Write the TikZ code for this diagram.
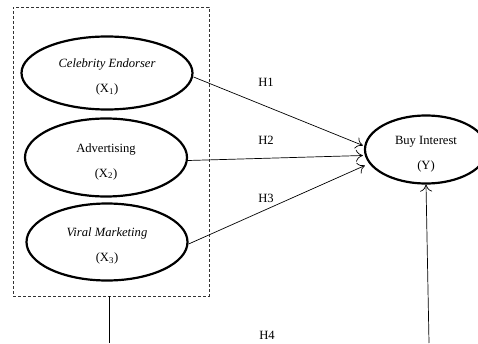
\documentclass[tikz,border=0pt]{standalone}
\usepackage{fontspec}
\setmainfont{Liberation Serif}
\usepackage{tikz}
\usetikzlibrary{shapes.geometric, arrows.meta}
\tikzstyle{latent} = [ellipse, draw=black, line width=2.2pt, inner sep=0pt,
           align=center, font=\fontsize{12.6}{15}\selectfont]
\tikzstyle{group} = [rectangle, draw=black!80, line width=0.7pt,
           dash pattern=on 3pt off 2pt, minimum width=196pt, minimum height=289pt]
\tikzstyle{hyp} = [font=\fontsize{12.6}{15}\selectfont]
\tikzstyle{arrow} = [line width=0.7pt,-{To[length=7pt,width=12pt]}]
\newcommand{\lift}{\rule{0pt}{17pt}}

\begin{document}
\begin{tikzpicture}[x=1pt, y=1pt, node distance=84.5pt]
\useasboundingbox (0,0) rectangle (478,343);
\node (cel) [latent, minimum width=171pt, minimum height=73pt] at (107,270)
   {\lift\textit{Celebrity Endorser}\\[10pt](X\textsubscript{1})};
\node (adv) [latent, minimum width=162pt, minimum height=78pt, below of=cel, xshift=-1pt]
   {\lift Advertising\\[10pt](X\textsubscript{2})};
\node (viral) [latent, minimum width=161pt, minimum height=77pt, below of=adv, xshift=1pt]
   {\lift\textit{Viral Marketing}\\[10pt](X\textsubscript{3})};
\node (buy) [latent, minimum width=122pt, minimum height=68pt, right of=adv, xshift=235.5pt, yshift=8pt]
   {\lift Buy Interest\\[10pt](Y)};
\node (box) [group] at (111,191.5) {};
\node (h1) [hyp] at (266,261) {H1};
\node (h2) [hyp] at (266,203) {H2};
\node (h3) [hyp] at (266,145) {H3};
\node (h4) [hyp] at (267,8) {H4};
\coordinate (boxfoot) at (109,0);
\coordinate (buyfoot) at (429,0);
\draw [arrow] ([yshift=-4pt]cel.east) -- ([shift={(-1pt,4pt)}]buy.west);
\draw [arrow] ([yshift=-3pt]adv.east) -- ([shift={(-1pt,-6pt)}]buy.west);
\draw [arrow] ([yshift=-2pt]viral.east) -- ([shift={(1pt,-16pt)}]buy.west);
\draw [line width=0.7pt] ([xshift=-2pt]box.south) -- (boxfoot);
\draw [arrow] (buyfoot) -- (buy.south);
\end{tikzpicture}
\end{document}
